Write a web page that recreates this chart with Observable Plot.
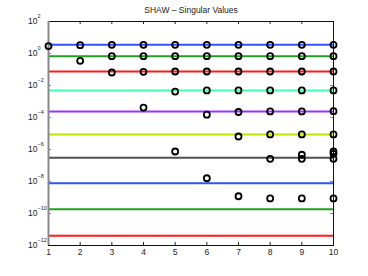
<!DOCTYPE html>
<html><head><meta charset="utf-8">
<script src="https://cdn.jsdelivr.net/npm/d3@7"></script>
<script src="https://cdn.jsdelivr.net/npm/@observablehq/plot@0.6"></script>
<style>body{margin:0;background:#fff}</style>
</head><body><div id="chart"></div>
<script>
const title = ["SHAW \u2013 Singular Values"];
const xTicks = [1,2,3,4,5,6,7,8,9,10];
const yTickExps = [2,0,-2,-4,-6,-8,-10,-12];
const lineValues = [3.5, 0.68, 0.075, 0.0049, 2.4e-4, 8.7e-6, 3.0e-7, 7.9e-9, 1.86e-10, 4.1e-12];
const lineColors = ["#3050ff","#20a020","#ff1a1a","#40ffb0","#a030ff","#c0e000","#505050","#3050ff","#20a020","#ff1a1a"];
const pointsByN = [
  [2.9],
  [3.3, 0.35],
  [3.5, 0.68, 0.065],
  [3.5, 0.68, 0.072, 4.2e-4],
  [3.5, 0.68, 0.075, 4.2e-3, 7.5e-7],
  [3.5, 0.68, 0.075, 0.0049, 1.5e-4, 1.6e-8],
  [3.5, 0.68, 0.075, 0.0049, 2.2e-4, 6.5e-6, 1.2e-9],
  [3.5, 0.68, 0.075, 0.0049, 2.4e-4, 8.7e-6, 2.6e-7, 8.7e-10],
  [3.5, 0.68, 0.075, 0.0049, 2.4e-4, 8.7e-6, 4.7e-7, 2.6e-7, 8.7e-10],
  [3.5, 0.68, 0.075, 0.0049, 2.5e-4, 8.7e-6, 7.5e-7, 5.4e-7, 2.6e-7, 8.7e-10]
];
const lines = lineValues.map((v,i)=>({v, c: lineColors[i]}));
const pts = pointsByN.flatMap((arr,i)=>arr.map(v=>({n:i+1, v})));
const yt = yTickExps.map(e=>({e, v: Math.pow(10,e)}));
const W = 368, H = 276, mL = 48, mR = 35, mT = 21, mB = 31;

const chart = Plot.plot({
  width: W, height: H,
  marginLeft: mL, marginRight: mR, marginTop: mT, marginBottom: mB,
  style: {fontFamily: "Liberation Sans, Arial, sans-serif", fontSize: "8px", color: "#222"},
  x: {domain: [1,10], axis: null},
  y: {type: "log", domain: [1e-12, 1e2], axis: null},
  marks: [
    Plot.tickX(xTicks, {x: d=>d, insetTop: H - mT - mB - 3, stroke: "#222"}),
    Plot.tickX(xTicks, {x: d=>d, insetBottom: H - mT - mB - 3, stroke: "#222"}),
    Plot.tickY(yt, {y: "v", insetRight: W - mL - mR - 3, stroke: "#888"}),
    Plot.tickY(yt, {y: "v", insetLeft: W - mL - mR - 3, stroke: "#888"}),
    Plot.text(xTicks, {x: d=>d, text: d=>String(d), frameAnchor: "bottom", dy: 9, fontSize: 8.5, fill: "#222"}),
    Plot.text(yt, {y: "v", text: d=>"10", frameAnchor: "left", textAnchor: "end", dx: -11, fontSize: 8.5, fill: "#222"}),
    Plot.text(yt, {y: "v", text: d=>d.e < 0 ? "\u2212" + (-d.e) : String(d.e), frameAnchor: "left", textAnchor: "start", dx: -11, dy: -5, fontSize: 5.5, fill: "#222"}),
    Plot.ruleY(lines, {y: "v", x1: 1, x2: 10, stroke: "c", strokeWidth: 2}),
    Plot.frame({stroke: "#111", strokeWidth: 1}),
    Plot.ruleX([1], {stroke: "#888", strokeWidth: 2}),
    Plot.dot(pts, {x: "n", y: "v", r: 3, stroke: "#000", strokeWidth: 1.8, fill: "none"}),
    Plot.text(title, {text: d=>d, frameAnchor: "top", dy: -15, fontSize: 8.5, fill: "#222"})
  ]
});
document.getElementById("chart").appendChild(chart);
</script></body></html>
